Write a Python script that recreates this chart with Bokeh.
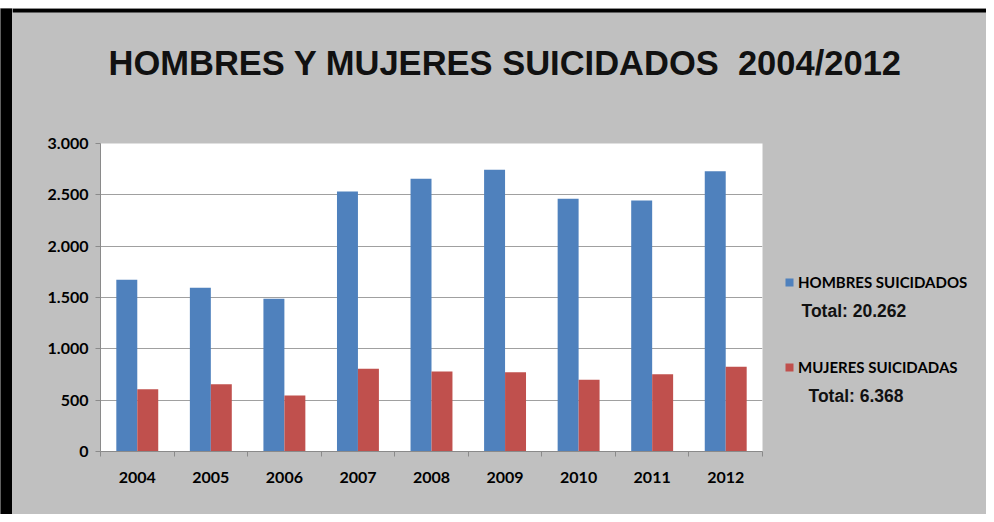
from bokeh.plotting import figure
from bokeh.models import (Range1d, FixedTicker, Legend, LegendItem, Label, Spacer,
                          BoxAnnotation)
from bokeh.layouts import row, column
from bokeh.transform import dodge
from bokeh.embed import file_html
from bokeh.resources import INLINE

years = ["2004", "2005", "2006", "2007", "2008", "2009", "2010", "2011", "2012"]
hombres = [1672, 1594, 1487, 2532, 2656, 2744, 2461, 2445, 2730]
mujeres = [607, 656, 545, 805, 779, 772, 698, 753, 825]
y_ticks = [0, 500, 1000, 1500, 2000, 2500, 3000]
y_tick_labels = ["0", "500", "1.000", "1.500", "2.000", "2.500", "3.000"]
title_text = "HOMBRES Y MUJERES SUICIDADOS\u00a0 2004/2012"
serie_names = ["HOMBRES SUICIDADOS", "MUJERES SUICIDADAS"]
totals = ["Total: 20.262", "Total: 6.368"]

BLUE = "#4F81BD"
RED = "#C0504D"
GRAY_BG = "#c0c0c0"


def blank(w, h, color, yr=(0, 1)):
    f = figure(width=w, height=h, output_backend="svg", toolbar_location=None,
               x_axis_location=None, y_axis_location=None, min_border=0,
               x_range=Range1d(0, 1), y_range=Range1d(*yr))
    f.background_fill_color = color
    f.border_fill_color = color
    f.outline_line_color = None
    f.grid.visible = False
    return f


# ---------- main chart ----------
idx = list(range(len(years)))
src = dict(idx=idx, hombres=hombres, mujeres=mujeres)

p = figure(width=752, height=391, output_backend="svg", toolbar_location=None,
           x_range=Range1d(-0.5, len(years) - 0.5), y_range=Range1d(0, 3000),
           min_border_left=88, min_border_right=2, min_border_top=20,
           min_border_bottom=63)
p.background_fill_color = "white"
p.border_fill_color = GRAY_BG
p.outline_line_color = None

p.vbar(x=dodge("idx", -0.1425), top="hombres", width=0.285, source=src,
       fill_color=BLUE, line_color=None)
p.vbar(x=dodge("idx", 0.1425), top="mujeres", width=0.285, source=src,
       fill_color=RED, line_color=None)

p.xaxis.ticker = FixedTicker(ticks=idx, minor_ticks=[i - 0.5 for i in range(len(years) + 1)])
p.xaxis.major_label_overrides = {i: y for i, y in zip(idx, years)}
p.xaxis.major_tick_out = 0
p.xaxis.major_tick_in = 0
p.xaxis.minor_tick_out = 5
p.xaxis.minor_tick_in = 0
p.xaxis.minor_tick_line_color = "#8a8a8a"
p.xaxis.axis_line_color = "#8a8a8a"
p.xaxis.major_label_standoff = 15

p.yaxis.ticker = FixedTicker(ticks=y_ticks)
p.yaxis.major_label_overrides = {t: l for t, l in zip(y_ticks, y_tick_labels)}
p.yaxis.major_tick_out = 5
p.yaxis.major_tick_in = 0
p.yaxis.minor_tick_line_color = None
p.yaxis.major_tick_line_color = "#8a8a8a"
p.yaxis.axis_line_color = "#8a8a8a"
p.yaxis.major_label_standoff = 7

for ax in (p.xaxis, p.yaxis):
    ax.major_label_text_font = "Lato"
    ax.major_label_text_font_style = "bold"
    ax.major_label_text_font_size = "16px"
    ax.major_label_text_color = "black"

p.xgrid.grid_line_color = None
p.ygrid.grid_line_color = "#a0a0a0"
p.ygrid.ticker = FixedTicker(ticks=y_ticks)

# ---------- legend panel ----------
side = blank(222, 391, GRAY_BG)
nan = float("nan")
l1 = side.vbar(x=[nan], top=[nan], width=0.1, fill_color=BLUE, line_color=None)
l2 = side.vbar(x=[nan], top=[nan], width=0.1, fill_color=RED, line_color=None)
legend = Legend(items=[LegendItem(label=serie_names[0], renderers=[l1]),
                       LegendItem(label=serie_names[1], renderers=[l2])],
                location=(20, 75), orientation="vertical",
                glyph_width=10, glyph_height=10, label_standoff=4,
                spacing=67, padding=0, margin=0,
                background_fill_alpha=0, border_line_color=None,
                label_text_font="Lato", label_text_font_style="bold",
                label_text_font_size="15px", label_text_color="black")
side.add_layout(legend, "center")
side.add_layout(Label(x=37, y=141, x_units="screen", y_units="screen",
                      text=totals[0], text_baseline="alphabetic",
                      text_font="Liberation Sans", text_font_style="bold",
                      text_font_size="17.5px", text_color="#111111"))
side.add_layout(Label(x=44, y=56, x_units="screen", y_units="screen",
                      text=totals[1], text_baseline="alphabetic",
                      text_font="Liberation Sans", text_font_style="bold",
                      text_font_size="17.5px", text_color="#111111"))

# ---------- title panel (with the top black border of the frame) ----------
top = blank(974, 115, GRAY_BG, yr=(0, 115))
top.add_layout(BoxAnnotation(bottom=111, top=115, fill_color="black", fill_alpha=1,
                             line_color=None))
top.add_layout(Label(x=96, y=61, x_units="screen", y_units="screen",
                     text=title_text, text_align="left", text_baseline="alphabetic",
                     text_font="Liberation Sans", text_font_style="bold",
                     text_font_size="34.5px", text_color="#111111"))

# ---------- left black border ----------
left_border = blank(12, 506, "black")

layout = column(Spacer(width=986, height=8),
                row(left_border, column(top, row(p, side)),
                    styles={"background-color": GRAY_BG}))

open("out.html", "w").write(file_html(layout, INLINE))
